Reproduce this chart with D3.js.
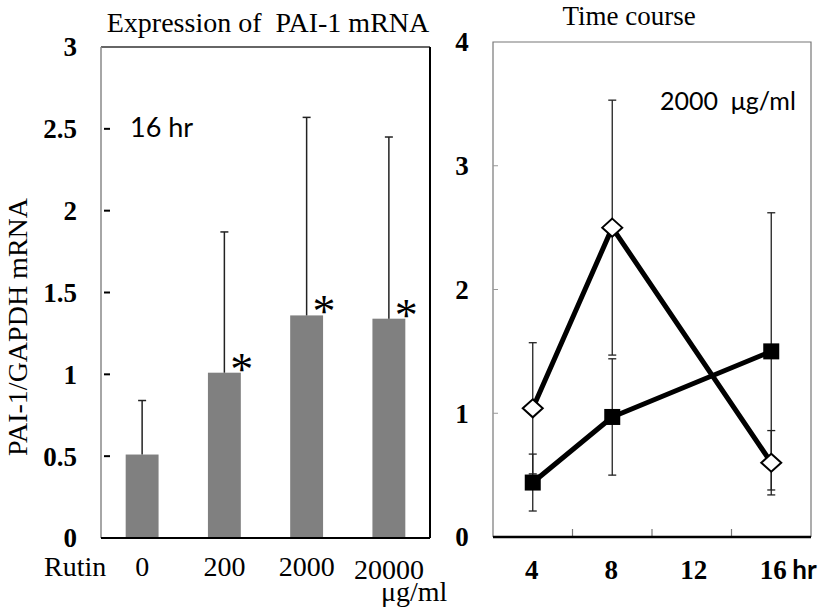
<!DOCTYPE html>
<html>
<head>
<meta charset="utf-8">
<script src="https://cdn.jsdelivr.net/npm/d3@7/dist/d3.min.js"></script>
<style>
  body{margin:0;background:#fff;}
  svg{display:block;}
  text{white-space:pre;}
</style>
</head>
<body>
<svg id="chart" width="824" height="609"></svg>
<script>
'use strict';
// left panel: PAI-1 expression at 16 hr by rutin dose
const doses = ['0','200','2000','20000'];
const expr = [0.51, 1.01, 1.36, 1.34];
const exprErr = [0.33, 0.86, 1.21, 1.11];
const signif = [false, true, true, true];
const leftTicks = [0, 0.5, 1, 1.5, 2, 2.5, 3];

// right panel: time course at 2000 ug/ml
const hours = ['4','8','12','16'];
const diamond = [1.04, 2.50, null, 0.60];
const diamondErr = [0.53, 1.03, null, 0.26];
const square = [0.44, 0.97, null, 1.50];
const squareErr = [0.23, 0.47, null, 1.12];
const rightTicks = [0, 1, 2, 3, 4];

const SERIF = '"Liberation Serif","Times New Roman",serif';
const SANS = 'Lato,"Open Sans",sans-serif';

const svg = d3.select('#chart');

// ---------- left panel ----------
const L = {x0:101, x1:430, y0:47, y1:538};
const xL = d3.scaleBand().domain(doses).range([L.x0, L.x1]).paddingInner(0.6).paddingOuter(0.3);
const yL = d3.scaleLinear().domain([0, 3]).range([L.y1, L.y0]);

const gL = svg.append('g');
gL.append('text').attr('font-family',SERIF).attr('x',268).attr('y',32)
  .attr('text-anchor','middle').attr('font-size',28).text('Expression of  PAI-1 mRNA');

// frame
gL.append('line').attr('x1',L.x0).attr('x2',L.x1).attr('y1',L.y0).attr('y2',L.y0).attr('stroke','#333').attr('stroke-width',1.5);
gL.append('line').attr('x1',L.x0).attr('x2',L.x0).attr('y1',L.y0).attr('y2',L.y1).attr('stroke','#888').attr('stroke-width',1.5);
gL.append('line').attr('x1',L.x1).attr('x2',L.x1).attr('y1',L.y0).attr('y2',L.y1).attr('stroke','#000').attr('stroke-width',2);

// y ticks (dashes inside the frame) and labels
gL.selectAll('.tk').data(leftTicks.filter(d => d > 0 && d < 3)).join('line')
  .attr('x1',104).attr('x2',110).attr('y1',d => yL(d)).attr('y2',d => yL(d))
  .attr('stroke','#000').attr('stroke-width',2);
gL.selectAll('.tl').data(leftTicks).join('text')
  .attr('font-family',SERIF).attr('x',77).attr('y',d => yL(d)).attr('dy','0.35em')
  .attr('text-anchor','end').attr('font-size',27).attr('font-weight','bold')
  .text(d => d);

// bars
gL.selectAll('.bar').data(doses).join('rect')
  .attr('x',d => xL(d)).attr('width',xL.bandwidth())
  .attr('y',(d,i) => yL(expr[i])).attr('height',(d,i) => yL(0) - yL(expr[i]))
  .attr('fill','#808080');

// error bars (upper only)
doses.forEach((d,i) => {
  const cx = xL(d) + xL.bandwidth()/2;
  const top = yL(expr[i] + exprErr[i]);
  gL.append('line').attr('x1',cx).attr('x2',cx).attr('y1',yL(expr[i])).attr('y2',top).attr('stroke','#222').attr('stroke-width',1.5);
  gL.append('line').attr('x1',cx-4).attr('x2',cx+4).attr('y1',top).attr('y2',top).attr('stroke','#222').attr('stroke-width',1.5);
  if (signif[i]) {
    gL.append('text').attr('font-family',SERIF).attr('x',xL(d) + xL.bandwidth() + 1).attr('y',yL(expr[i]) + 12)
      .attr('text-anchor','middle').attr('font-size',46).text('*');
  }
});

// bottom axis line
gL.append('line').attr('x1',L.x0).attr('x2',L.x1).attr('y1',L.y1).attr('y2',L.y1).attr('stroke','#000').attr('stroke-width',2);

gL.append('text').attr('font-family',SANS).attr('x',130).attr('y',137).attr('font-size',27).text('16 hr');

// x labels
gL.append('text').attr('font-family',SERIF).attr('x',44).attr('y',576).attr('font-size',28).text('Rutin');
gL.selectAll('.xl').data(doses).join('text')
  .attr('font-family',SERIF).attr('x',d => xL(d) + xL.bandwidth()/2)
  .attr('y',(d,i) => i === 3 ? 579 : 576)
  .attr('text-anchor','middle').attr('font-size',28).text(d => d);
gL.append('text').attr('font-family',SERIF).attr('x',381).attr('y',601).attr('font-size',28).text('\u03bcg/ml');

// y label
gL.append('text').attr('font-family',SERIF).attr('transform','translate(27,327) rotate(-90)')
  .attr('text-anchor','middle').attr('font-size',28).text('PAI-1/GAPDH mRNA');

// ---------- right panel ----------
const R = {x0:493, x1:811, y0:42, y1:537};
const xR = d3.scaleBand().domain(hours).range([R.x0, R.x1]);
const yR = d3.scaleLinear().domain([0, 4]).range([R.y1, R.y0]);

const gR = svg.append('g');
gR.append('text').attr('font-family',SERIF).attr('x',629).attr('y',25)
  .attr('text-anchor','middle').attr('font-size',27).text('Time course');

gR.append('path')
  .attr('d',`M${R.x0},${R.y1}V${R.y0}H${R.x1}V${R.y1}`)
  .attr('fill','none').attr('stroke','#777').attr('stroke-width',1.2);

// y ticks + labels
gR.selectAll('.tk').data(rightTicks.filter(d => d > 0 && d < 4)).join('line')
  .attr('x1',R.x0).attr('x2',R.x0 + 5).attr('y1',d => yR(d)).attr('y2',d => yR(d))
  .attr('stroke','#999').attr('stroke-width',1);
gR.selectAll('.tl').data(rightTicks).join('text')
  .attr('font-family',SERIF).attr('x',462).attr('y',d => yR(d)).attr('dy','0.35em')
  .attr('text-anchor','middle').attr('font-size',27).attr('font-weight','bold')
  .text(d => d);

// x ticks at band boundaries
gR.selectAll('.xt').data(hours.slice(1)).join('line')
  .attr('x1',d => xR(d)).attr('x2',d => xR(d)).attr('y1',R.y1).attr('y2',R.y1 - 8)
  .attr('stroke','#777').attr('stroke-width',1.2);
gR.append('line').attr('x1',R.x0).attr('x2',R.x1).attr('y1',R.y1).attr('y2',R.y1).attr('stroke','#000').attr('stroke-width',2.5);

const cxR = h => xR(h) + xR.bandwidth()/2;
const labelShift = [-1, -1, 2, 2];
hours.forEach((h,i) => {
  gR.append('text').attr('font-family',SERIF).attr('x',cxR(h) + labelShift[i]).attr('y',579)
    .attr('text-anchor','middle').attr('font-size',27).attr('font-weight','bold').text(h);
  if (i === 3) {
    gR.append('text').attr('font-family',SANS).attr('x',cxR(h) + 21).attr('y',579)
      .attr('font-size',26).attr('font-weight','bold').text('hr');
  }
});

gR.append('text').attr('font-family',SANS).attr('x',660).attr('y',110).attr('font-size',25).text('2000  \u03bcg/ml');

// error bars
function errBars(vals, errs) {
  hours.forEach((h,i) => {
    if (vals[i] == null) return;
    const cx = cxR(h), hi = yR(vals[i] + errs[i]), lo = yR(vals[i] - errs[i]);
    gR.append('line').attr('x1',cx).attr('x2',cx).attr('y1',lo).attr('y2',hi).attr('stroke','#222').attr('stroke-width',1.3);
    [hi, lo].forEach(y => gR.append('line').attr('x1',cx-4).attr('x2',cx+4).attr('y1',y).attr('y2',y).attr('stroke','#222').attr('stroke-width',1.3));
  });
}
errBars(diamond, diamondErr);
errBars(square, squareErr);

const line = d3.line().x(d => cxR(d[0])).y(d => yR(d[1]));
const pts = vals => hours.map((h,i) => [h, vals[i]]).filter(d => d[1] != null);

gR.append('path').datum(pts(diamond)).attr('d',line).attr('fill','none').attr('stroke','#000').attr('stroke-width',5).attr('stroke-linejoin','round');
gR.append('path').datum(pts(square)).attr('d',line).attr('fill','none').attr('stroke','#000').attr('stroke-width',5).attr('stroke-linejoin','round');

gR.selectAll('.sq').data(pts(square)).join('rect')
  .attr('x',d => cxR(d[0]) - 8).attr('y',d => yR(d[1]) - 8).attr('width',16).attr('height',16)
  .attr('fill','#000');
gR.selectAll('.dm').data(pts(diamond)).join('path')
  .attr('d',d => { const x = cxR(d[0]), y = yR(d[1]); return `M${x},${y-9}L${x+10},${y}L${x},${y+9}L${x-10},${y}Z`; })
  .attr('fill','#fff').attr('stroke','#000').attr('stroke-width',2);
</script>
</body>
</html>
